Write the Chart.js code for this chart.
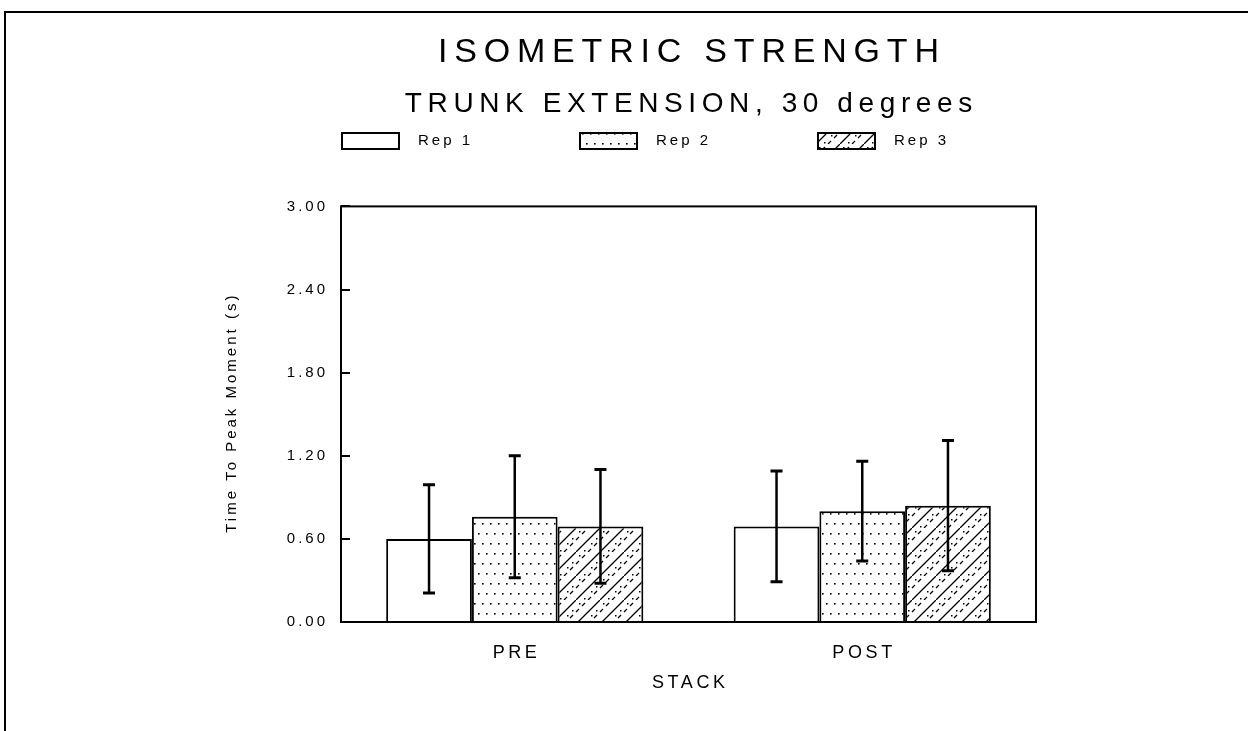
<!DOCTYPE html>
<html>
<head>
<meta charset="utf-8">
<script src="https://cdn.jsdelivr.net/npm/chart.js@4.4.0/dist/chart.umd.min.js"></script>
<style>
  html, body { margin: 0; padding: 0; background: #fff; }
  #wrap { width: 1248px; height: 731px; position: relative; }
</style>
</head>
<body>
<div id="wrap"><canvas id="chart_isometricStrength"></canvas></div>
<script>
// values
var categories = ['PRE', 'POST'];
var seriesNames = ['Rep 1', 'Rep 2', 'Rep 3'];
var rep1 = [0.60, 0.69];
var rep2 = [0.76, 0.80];
var rep3 = [0.69, 0.84];
var rep1Err = [0.39, 0.40];
var rep2Err = [0.44, 0.36];
var rep3Err = [0.41, 0.47];
var yTicks = [0, 0.6, 1.2, 1.8, 2.4, 3.0];

var FONT = "'Liberation Sans', Arial, Helvetica, sans-serif";
var SPACING = 0.2; // letter spacing of the old plotter font, in em

function dotPattern() {
    var c = document.createElement('canvas');
    c.width = 8; c.height = 20;
    var g = c.getContext('2d');
    g.fillStyle = '#fff';
    g.fillRect(0, 0, 8, 20);
    g.fillStyle = '#000';
    g.fillRect(2, 3, 1.6, 1.6);
    g.fillRect(6, 13, 1.6, 1.6);
    return g.createPattern(c, 'repeat');
}

function hatchPattern() {
    var c = document.createElement('canvas');
    c.width = 24; c.height = 24;
    var g = c.getContext('2d');
    g.fillStyle = '#fff';
    g.fillRect(0, 0, 24, 24);
    g.strokeStyle = '#000';
    g.lineWidth = 1.3;
    g.beginPath();
    g.moveTo(0, 24); g.lineTo(24, 0);
    for (var k = 0; k < 4; k++) {
        var u = k * 6;
        g.moveTo(-12 + u, 24 - u); g.lineTo(-12 + u + 3, 24 - u - 3);
        g.moveTo(12 + u, 24 - u); g.lineTo(12 + u + 3, 24 - u - 3);
    }
    g.stroke();
    g.fillStyle = '#000';
    g.fillRect(3, 3, 1.5, 1.5);
    g.fillRect(15, 15, 1.5, 1.5);
    g.fillRect(20, 10, 1.5, 1.5);
    g.fillRect(8, 22, 1.5, 1.5);
    return g.createPattern(c, 'repeat');
}

var fills = ['#ffffff', dotPattern(), hatchPattern()];
var errors = [rep1Err, rep2Err, rep3Err];

var chart_isometricStrength = new Chart(document.getElementById('chart_isometricStrength'), {
    type: 'bar',
    data: {
        labels: categories,
        datasets: [
            { label: seriesNames[0], data: rep1, backgroundColor: fills[0] },
            { label: seriesNames[1], data: rep2, backgroundColor: fills[1] },
            { label: seriesNames[2], data: rep3, backgroundColor: fills[2] }
        ]
    },
    options: {
        animation: false,
        responsive: true,
        maintainAspectRatio: false,
        layout: { padding: { left: 220, right: 212, top: 0, bottom: 0 } },
        datasets: {
            bar: {
                borderColor: '#000',
                borderWidth: 2,
                categoryPercentage: 0.74,
                barPercentage: 1.0
            }
        },
        plugins: {
            legend: { display: false },
            tooltip: { enabled: false },
            title: {
                display: true,
                fullSize: false,
                text: 'ISOMETRIC STRENGTH',
                color: '#000',
                font: { family: FONT, size: 34, weight: 'normal' },
                padding: { top: 32, bottom: 15 }
            },
            subtitle: {
                display: true,
                fullSize: false,
                text: 'TRUNK EXTENSION, 30 degrees',
                color: '#000',
                font: { family: FONT, size: 28, weight: 'normal' },
                padding: { top: 0, bottom: 85 }
            }
        },
        scales: {
            x: {
                grid: { display: false, drawTicks: false },
                border: { display: false },
                ticks: {
                    color: '#000',
                    padding: 20,
                    font: { family: FONT, size: 18 }
                },
                title: {
                    display: true,
                    text: 'STACK',
                    color: '#000',
                    font: { family: FONT, size: 18 },
                    padding: { top: 0, bottom: 37 }
                },
                afterFit: function (scale) { scale.height = 109; }
            },
            y: {
                min: 0,
                max: 3,
                grid: { display: false, drawTicks: false },
                border: { display: false },
                afterBuildTicks: function (scale) {
                    scale.ticks = yTicks.map(function (v) { return { value: v }; });
                },
                ticks: {
                    color: '#000',
                    padding: 16,
                    font: { family: FONT, size: 15 },
                    callback: function (v) { return Number(v).toFixed(2); }
                },
                title: {
                    display: true,
                    text: 'Time To Peak Moment (s)',
                    color: '#000',
                    font: { family: FONT, size: 15 },
                    padding: { top: 3, bottom: 0 }
                },
                afterFit: function (scale) { scale.width = 121; }
            }
        }
    },
    plugins: [{
        id: 'plotterText',
        beforeInit: function (chart) {
            // spread letters like the original plotter font
            var ctx = chart.ctx;
            var fill = ctx.fillText;
            ctx.fillText = function (text, x, y, maxWidth) {
                var m = /([\d.]+)px/.exec(this.font);
                var s = m ? parseFloat(m[1]) * SPACING : 0;
                this.letterSpacing = s.toFixed(1) + 'px';
                if (this.textAlign === 'center') x += s / 2;
                else if (this.textAlign === 'right' || this.textAlign === 'end') x += s;
                if (maxWidth === undefined) fill.call(this, text, x, y);
                else fill.call(this, text, x, y, maxWidth);
            };
        }
    }, {
        id: 'paper',
        beforeDraw: function (chart) {
            var ctx = chart.ctx;
            ctx.save();
            ctx.fillStyle = 'white';
            ctx.fillRect(0, 0, chart.width, chart.height);
            ctx.strokeStyle = '#000';
            ctx.lineWidth = 2;
            ctx.beginPath();
            ctx.moveTo(5, chart.height);
            ctx.lineTo(5, 12);
            ctx.lineTo(chart.width, 12);
            ctx.stroke();
            ctx.restore();
        }
    }, {
        id: 'errorBars',
        afterDatasetsDraw: function (chart) {
            var ctx = chart.ctx;
            var y = chart.scales.y;
            ctx.save();
            ctx.strokeStyle = '#000';
            chart.data.datasets.forEach(function (ds, di) {
                var meta = chart.getDatasetMeta(di);
                meta.data.forEach(function (bar, i) {
                    var v = ds.data[i], e = errors[di][i];
                    var top = y.getPixelForValue(v + e);
                    var bot = y.getPixelForValue(v - e);
                    ctx.lineWidth = 2.5;
                    ctx.beginPath();
                    ctx.moveTo(bar.x, top);
                    ctx.lineTo(bar.x, bot);
                    ctx.stroke();
                    ctx.lineWidth = 3;
                    ctx.beginPath();
                    ctx.moveTo(bar.x - 6, top); ctx.lineTo(bar.x + 6, top);
                    ctx.moveTo(bar.x - 6, bot); ctx.lineTo(bar.x + 6, bot);
                    ctx.stroke();
                });
            });
            // plot frame with inward ticks on the value axis
            var a = chart.chartArea;
            ctx.lineWidth = 2;
            ctx.strokeRect(a.left, a.top, a.right - a.left, a.bottom - a.top);
            ctx.beginPath();
            yTicks.forEach(function (v) {
                var p = Math.round(y.getPixelForValue(v));
                ctx.moveTo(a.left, p);
                ctx.lineTo(a.left + 9, p);
            });
            ctx.stroke();
            ctx.restore();
        }
    }, {
        id: 'patternLegend',
        afterDraw: function (chart) {
            var ctx = chart.ctx;
            var a = chart.chartArea;
            ctx.save();
            ctx.font = '15px ' + FONT;
            ctx.textAlign = 'left';
            ctx.textBaseline = 'middle';
            seriesNames.forEach(function (name, i) {
                var x = a.left + 1 + i * 238;
                ctx.fillStyle = fills[i];
                ctx.fillRect(x, 133, 57, 16);
                ctx.strokeStyle = '#000';
                ctx.lineWidth = 2;
                ctx.strokeRect(x, 133, 57, 16);
                ctx.fillStyle = '#000';
                ctx.fillText(name, x + 76, 141);
            });
            ctx.restore();
        }
    }]
});
</script>
</body>
</html>
